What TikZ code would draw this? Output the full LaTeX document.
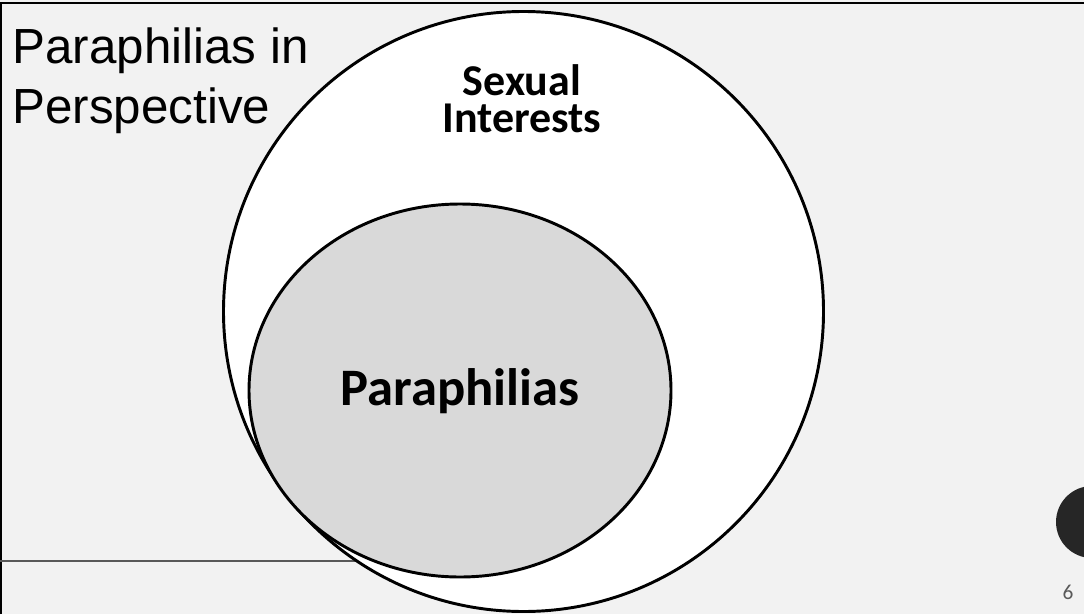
\documentclass[tikz,border=0pt]{standalone}
\usepackage{fontspec}
\setmainfont{Liberation Sans}
\newfontfamily\calibri{Carlito}
\usetikzlibrary{shapes.geometric}
\definecolor{slidebg}{HTML}{F2F2F2}
\definecolor{parafill}{HTML}{D9D9D9}
\definecolor{rulegray}{HTML}{595959}
\definecolor{dotgray}{HTML}{262626}

\begin{document}
\begin{tikzpicture}[x=0.75pt,y=-0.75pt,line width=2.2pt]
\tikzstyle{ring}=[circle,draw=black,fill=white,inner sep=0pt,minimum size=600*0.75pt]
\tikzstyle{blob}=[ellipse,draw=black,fill=parafill,inner sep=0pt,minimum width=422*0.75pt,minimum height=373*0.75pt]
\tikzstyle{setname}=[inner sep=0pt,align=center]

% Slide background and frame
\fill[slidebg] (0,0) rectangle (1084,614);
\useasboundingbox (0,0) rectangle (1084,614);
\draw[line width=1.5pt] (1,614) -- (1,2.5) -- (1084,2.5);

% Rule under the title area
\coordinate (RL) at (0,560.5);
\coordinate (RR) at (400,560.5);
\draw[rulegray,line width=1.5pt] (RL) -- (RR);

% Draw the sets
\node[ring] (SI) at (523.5,311.5) {};
\node[blob] (PA) at (460,390.5) {};

% Write set labels
\node[setname,font=\calibri\bfseries\fontsize{33}{27.5}\selectfont] (SI-L) at (522,99) {Sexual\\Interests};
\node[setname,font=\calibri\bfseries\fontsize{39.5}{46}\selectfont] (PA-L) at (460,391) {Paraphilias};

% Slide title
\node[anchor=north west,inner sep=0pt,align=left,font=\fontsize{37}{45}\selectfont] (T) at (11,26) {Paraphilias in\\Perspective};

% Page marker and number
\node[circle,fill=dotgray,inner sep=0pt,minimum size=72*0.75pt] (DOT) at (1092,522) {};
\node[font=\calibri\fontsize{16}{18}\selectfont,text=rulegray] (PG) at (1068,592) {6};

\end{tikzpicture}
\end{document}
